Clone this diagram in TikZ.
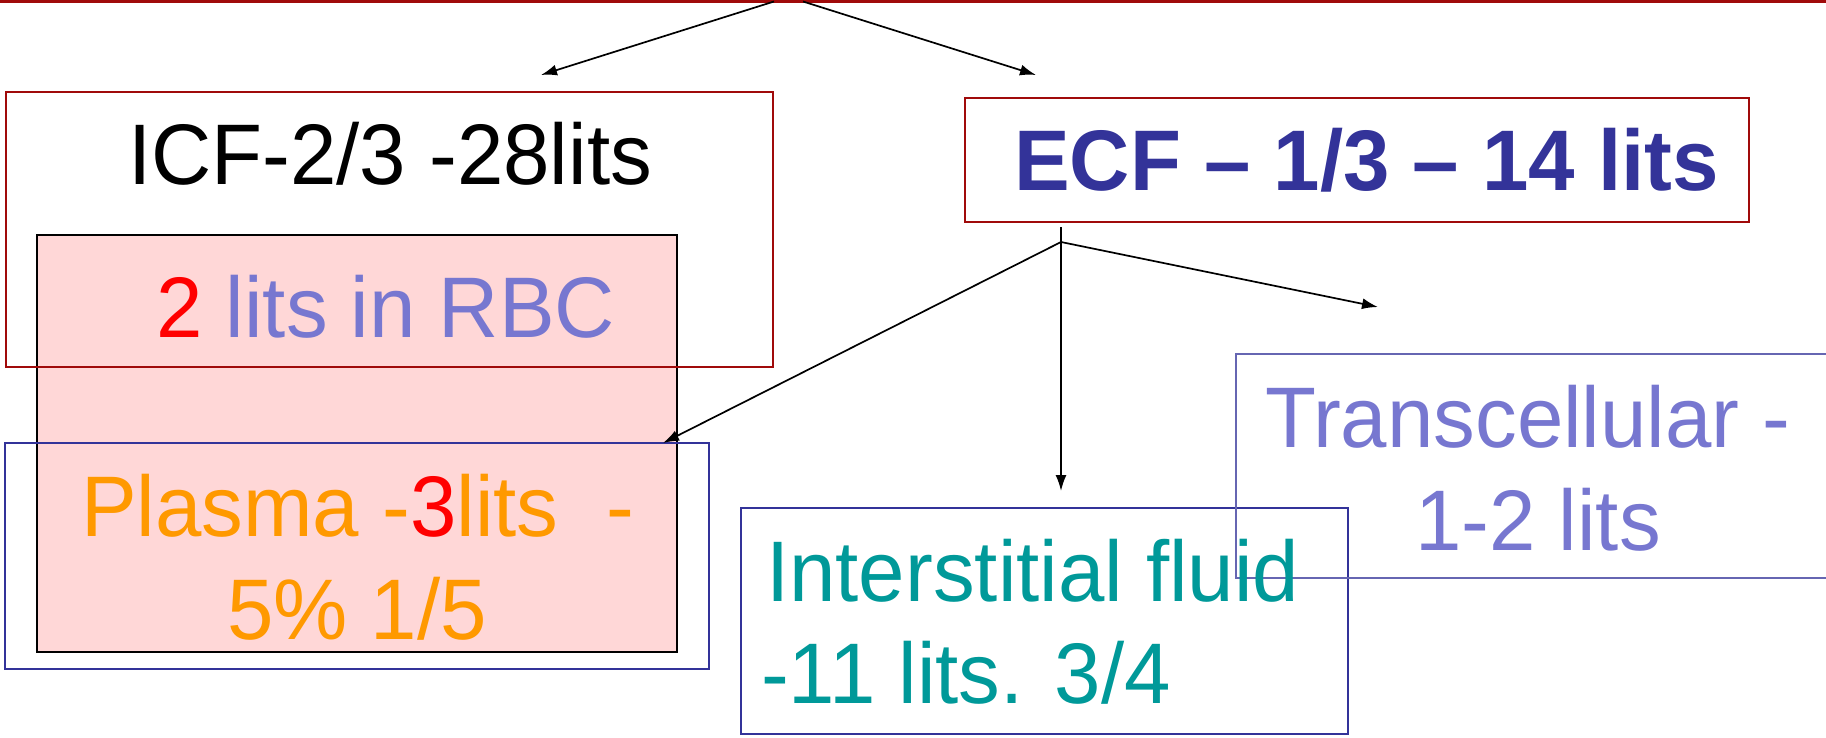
\documentclass[tikz,border=0pt]{standalone}
\usepackage{fontspec}
\setmainfont[FakeStretch=0.97]{Liberation Sans}
\usetikzlibrary{arrows.meta}
\definecolor{boxred}{RGB}{160,10,10}
\definecolor{navy}{RGB}{51,51,153}
\definecolor{slate}{RGB}{119,119,208}
\definecolor{orng}{RGB}{255,153,0}
\definecolor{tealc}{RGB}{0,153,153}
\definecolor{pinkf}{RGB}{255,215,215}
\begin{document}
\begin{tikzpicture}[x=1pt,y=-1pt,
  box/.style={draw, line width=2pt, inner sep=0pt, outer sep=0pt},
  redbox/.style={box, draw=boxred},
  bluebox/.style={box, draw=navy},
  conn/.style={line width=1.7pt, -{Latex[length=16pt,width=11pt]}},
  txt/.style={inner sep=0pt, anchor=base west, font=\fontsize{86}{100}\selectfont}]
\clip (0,0) rectangle (1826,737);
\useasboundingbox (0,0) rectangle (1826,737);
% top red line
\coordinate (tl) at (0,1.5);
\coordinate (tr) at (1826,1.5);
\draw[boxred, line width=3pt] (tl) -- (tr);
% boxes
\node[box, draw=black, fill=pinkf, minimum width=640pt, minimum height=417pt] (rbc) at (357,443.5) {};
\node[redbox, minimum width=767pt, minimum height=275pt] (icf) at (389.5,229.5) {};
\node[bluebox, minimum width=704pt, minimum height=226pt] (plasma) at (357,556) {};
\node[redbox, minimum width=784pt, minimum height=124pt] (ecf) at (1357,160) {};
\node[bluebox, minimum width=607pt, minimum height=226pt] (inter) at (1044.5,621) {};
\node[box, draw=navy!75!white, minimum width=604pt, minimum height=224pt] (trans) at (1538,466) {};
% texts
\node[txt] (ticf) at (128,184) {ICF-2/3 -28lits};
\node[txt, text=slate] (trbc) at (156,337) {\textcolor{red}{2} lits in RBC};
\node[txt, text=orng] (tpl1) at (81,536) {Plasma -\textcolor{red}{3}lits\hspace{0.556em}-};
\node[txt, text=orng] (tpl2) at (227,639) {5\% 1/5};
\node[txt, text=navy, font=\fontsize{86}{100}\selectfont\bfseries] (tecf) at (1014,190) {ECF – 1/3 – 14 lits};
\node[txt, text=slate] (ttr1) at (1265,447) {Transcellular -};
\node[txt, text=slate] (ttr2) at (1415,550) {1-2 lits};
\node[txt, text=tealc] (tin1) at (766,601) {Interstitial fluid};
\node[txt, text=tealc] (tin2) at (761,703) {-11 lits. 3/4};
% connectors
\coordinate (s1) at (774,1.5);
\coordinate (s2) at (803,1.5);
\coordinate (e1) at (541,75);
\coordinate (e2) at (1036,75);
\draw[conn] (s1) -- (e1);
\draw[conn] (s2) -- (e2);
\coordinate (J) at (1061,242);
\coordinate (jt) at (1061,227);
\coordinate (eint) at (1061,491);
\coordinate (epl) at (663,443);
\coordinate (etr) at (1378,307);
\draw[line width=1.7pt] (jt) -- (J);
\draw[conn] (J) -- (eint);
\draw[conn] (J) -- (epl);
\draw[conn] (J) -- (etr);
\end{tikzpicture}
\end{document}
